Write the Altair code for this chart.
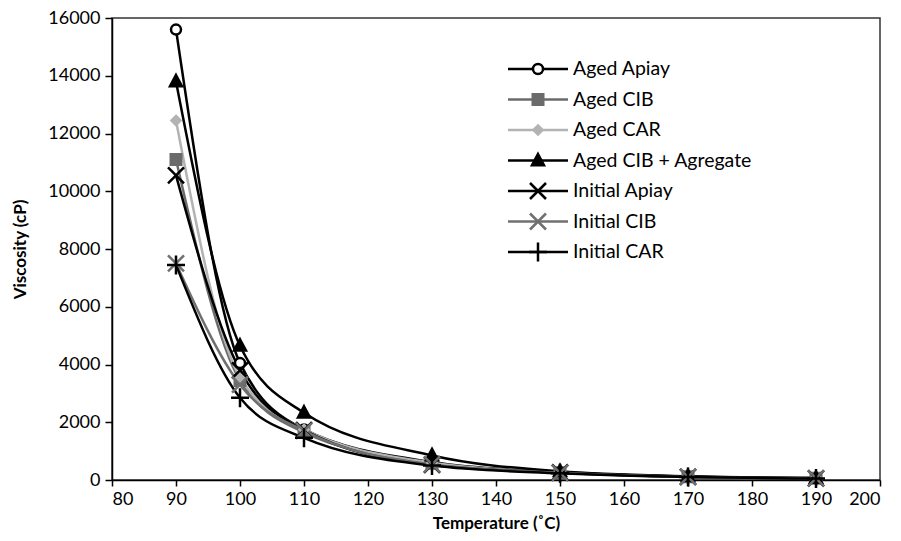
import altair as alt
import pandas as pd

temps = [90, 100, 110, 130, 150, 170, 190]
series_names = ["Aged Apiay", "Aged CIB", "Aged CAR", "Aged CIB + Agregate",
                "Initial Apiay", "Initial CIB", "Initial CAR"]
aged_apiay = [15600, 4050, 1750, 620, 260, 120, 70]
aged_cib = [11100, 3450, 1650, 580, 250, 110, 60]
aged_car = [12450, 3550, 1750, 600, 260, 115, 65]
aged_cib_agr = [13800, 4650, 2330, 850, 300, 130, 70]
initial_apiay = [10550, 3800, 1730, 520, 260, 110, 60]
initial_cib = [7500, 3300, 1700, 540, 250, 105, 55]
initial_car = [7450, 2850, 1460, 500, 230, 100, 50]

all_values = [aged_apiay, aged_cib, aged_car, aged_cib_agr,
              initial_apiay, initial_cib, initial_car]

rows = []
for name, vals in zip(series_names, all_values):
    for t, v in zip(temps, vals):
        rows.append({"series": name, "temp": t, "visc": v})
df = pd.DataFrame(rows)
leg_df = pd.DataFrame({"series": series_names})

stroke_colors = ["#000000", "#6b6b6b", "#b3b3b3", "#000000", "#000000", "#707070", "#000000"]
fill_colors = ["#ffffff", "#6b6b6b", "#b3b3b3", "#000000", "transparent", "transparent", "transparent"]
shapes = ["circle",
          "M-1.05,-1.05L1.05,-1.05L1.05,1.05L-1.05,1.05Z",
          "M0,-0.9L0.9,0L0,0.9L-0.9,0Z",
          "M0,-1.3L1.2,0.95L-1.2,0.95Z",
          "M-1.6,-1.6L1.6,1.6M-1.6,1.6L1.6,-1.6",
          "M-1.6,-1.6L1.6,1.6M-1.6,1.6L1.6,-1.6",
          "M-1.8,0L1.8,0M0,-1.9L0,1.9"]

FONT = "Lato"
W, H = 768, 462

stroke_enc = alt.Stroke("series:N", scale=alt.Scale(domain=series_names, range=stroke_colors), legend=None)
fill_enc = alt.Fill("series:N", scale=alt.Scale(domain=series_names, range=fill_colors), legend=None)
shape_enc = alt.Shape("series:N", scale=alt.Scale(domain=series_names, range=shapes), legend=None)

xenc = alt.X("temp:Q", scale=alt.Scale(domain=[80, 200], nice=False),
             axis=alt.Axis(values=list(range(80, 201, 10)), title="Temperature (˚C)",
                           grid=False, tickSize=6, labelPadding=4, titlePadding=7))
yenc = alt.Y("visc:Q", scale=alt.Scale(domain=[0, 16000], nice=False),
             axis=alt.Axis(values=list(range(0, 16001, 2000)), title="Viscosity (cP)", format="d",
                           grid=False, tickSize=7, labelPadding=5, titlePadding=18))

lines = alt.Chart(df).mark_line(interpolate="monotone", strokeWidth=2.5).encode(
    x=xenc, y=yenc, stroke=stroke_enc, detail="series:N",
    order=alt.Order("temp:Q"))
points = alt.Chart(df).mark_point(strokeWidth=2.5, opacity=1, size=100).encode(
    x="temp:Q", y="visc:Q", stroke=stroke_enc, fill=fill_enc, shape=shape_enc)

main = alt.layer(lines, points)

leg_y = alt.Y("series:N", scale=alt.Scale(type="point", domain=series_names, range=[51, 234], padding=0), axis=None)
leg_lines = alt.Chart(leg_df).mark_rule(strokeWidth=2.5).encode(
    x=alt.value(396), x2=alt.value(456), y=leg_y, stroke=stroke_enc)
leg_points = alt.Chart(leg_df).mark_point(strokeWidth=2.5, opacity=1, size=100).encode(
    x=alt.value(426), y=leg_y, stroke=stroke_enc, fill=fill_enc, shape=shape_enc)
leg_text = alt.Chart(leg_df).mark_text(align="left", baseline="middle", font=FONT, fontSize=19.5,
                                       color="#000000").encode(
    x=alt.value(461), y=leg_y, text="series:N")
legend = alt.layer(leg_lines, leg_points, leg_text)

chart = alt.layer(main, legend).resolve_scale(y="independent").properties(
    width=W, height=H,
    padding={"left": 112, "top": 18, "right": 21, "bottom": 61},
    autosize=alt.AutoSizeParams(type="none"),
).configure_view(stroke="#333333", strokeWidth=1.5).configure_axis(
    labelFont=FONT, labelFontSize=18, labelColor="#000000",
    titleFont=FONT, titleFontSize=17, titleFontWeight="bold", titleColor="#000000",
    domainColor="#000000", tickColor="#000000", domainWidth=1.5, tickWidth=1.5,
)

chart.save("out.html", embed_options={"renderer": "svg", "actions": False})
